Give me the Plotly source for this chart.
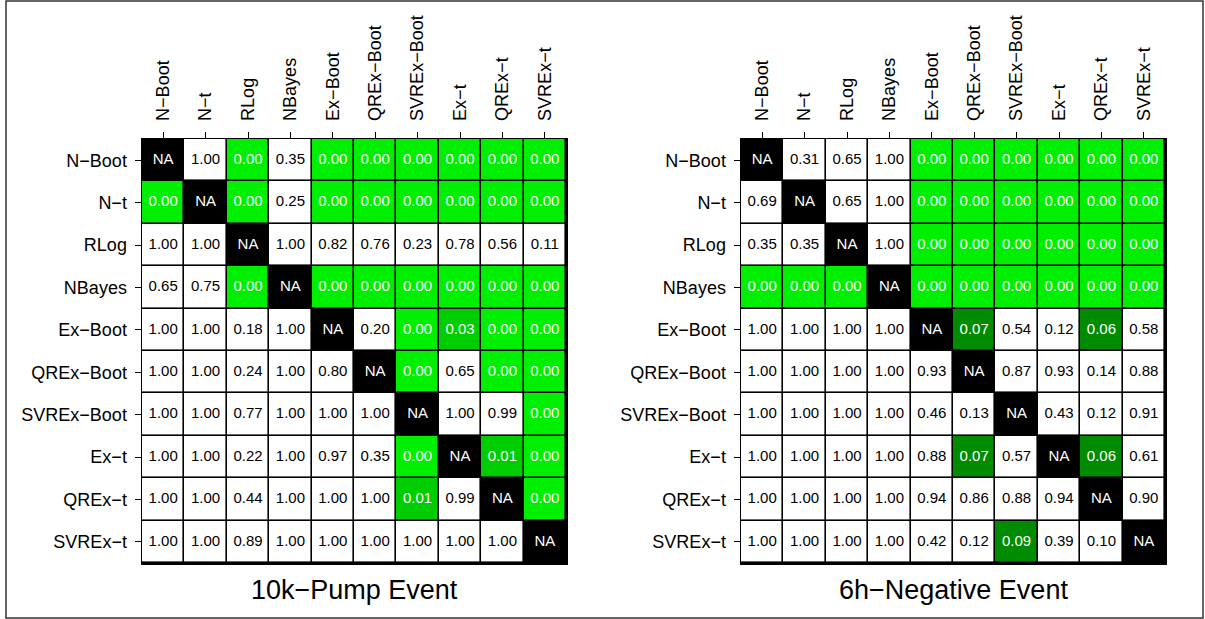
import plotly.graph_objects as go

methods = ["N−Boot", "N−t", "RLog", "NBayes", "Ex−Boot", "QREx−Boot",
           "SVREx−Boot", "Ex−t", "QREx−t", "SVREx−t"]

NA = None
pump_values = [
    [NA, 1.00, 0.00, 0.35, 0.00, 0.00, 0.00, 0.00, 0.00, 0.00],
    [0.00, NA, 0.00, 0.25, 0.00, 0.00, 0.00, 0.00, 0.00, 0.00],
    [1.00, 1.00, NA, 1.00, 0.82, 0.76, 0.23, 0.78, 0.56, 0.11],
    [0.65, 0.75, 0.00, NA, 0.00, 0.00, 0.00, 0.00, 0.00, 0.00],
    [1.00, 1.00, 0.18, 1.00, NA, 0.20, 0.00, 0.03, 0.00, 0.00],
    [1.00, 1.00, 0.24, 1.00, 0.80, NA, 0.00, 0.65, 0.00, 0.00],
    [1.00, 1.00, 0.77, 1.00, 1.00, 1.00, NA, 1.00, 0.99, 0.00],
    [1.00, 1.00, 0.22, 1.00, 0.97, 0.35, 0.00, NA, 0.01, 0.00],
    [1.00, 1.00, 0.44, 1.00, 1.00, 1.00, 0.01, 0.99, NA, 0.00],
    [1.00, 1.00, 0.89, 1.00, 1.00, 1.00, 1.00, 1.00, 1.00, NA],
]

neg_values = [
    [NA, 0.31, 0.65, 1.00, 0.00, 0.00, 0.00, 0.00, 0.00, 0.00],
    [0.69, NA, 0.65, 1.00, 0.00, 0.00, 0.00, 0.00, 0.00, 0.00],
    [0.35, 0.35, NA, 1.00, 0.00, 0.00, 0.00, 0.00, 0.00, 0.00],
    [0.00, 0.00, 0.00, NA, 0.00, 0.00, 0.00, 0.00, 0.00, 0.00],
    [1.00, 1.00, 1.00, 1.00, NA, 0.07, 0.54, 0.12, 0.06, 0.58],
    [1.00, 1.00, 1.00, 1.00, 0.93, NA, 0.87, 0.93, 0.14, 0.88],
    [1.00, 1.00, 1.00, 1.00, 0.46, 0.13, NA, 0.43, 0.12, 0.91],
    [1.00, 1.00, 1.00, 1.00, 0.88, 0.07, 0.57, NA, 0.06, 0.61],
    [1.00, 1.00, 1.00, 1.00, 0.94, 0.86, 0.88, 0.94, NA, 0.90],
    [1.00, 1.00, 1.00, 1.00, 0.42, 0.12, 0.09, 0.39, 0.10, NA],
]

titles = ["10k−Pump Event", "6h−Negative Event"]

W, H = 1205, 619
FONT = "Liberation Sans, Arial, Helvetica, sans-serif"


def code(v):
    if v is None:
        return 0
    if v < 0.01:
        return 1
    if v < 0.05:
        return 2
    if v < 0.1:
        return 3
    return 4


colorscale = [[0.0, "#000000"], [0.25, "#00EE00"], [0.5, "#00CD00"],
              [0.75, "#008B00"], [1.0, "#FFFFFF"]]

fig = go.Figure()

x_domains = [[142 / W, 566 / W], [741 / W, 1165 / W]]
y_domain = [1 - 563 / H, 1 - 139 / H]

for k, vals in enumerate([pump_values, neg_values]):
    xa = "x" if k == 0 else "x2"
    ya = "y" if k == 0 else "y2"
    z = [[code(v) for v in row] for row in vals]
    fig.add_trace(go.Heatmap(
        z=z, x=list(range(len(methods))), y=list(range(len(methods))),
        colorscale=colorscale, zmin=0, zmax=4, showscale=False,
        xgap=1.6, ygap=1.6, hoverinfo="skip", xaxis=xa, yaxis=ya))
    for light in (True, False):
        xs, ys, ts = [], [], []
        for i, row in enumerate(vals):
            for j, v in enumerate(row):
                is_light = code(v) < 4
                if is_light != light:
                    continue
                xs.append(j)
                ys.append(i)
                ts.append("NA" if v is None else f"{v:.2f}")
        fig.add_trace(go.Scatter(
            x=xs, y=ys, text=ts, mode="text", hoverinfo="skip",
            textfont=dict(family=FONT, size=15,
                          color="white" if light else "black"),
            showlegend=False, xaxis=xa, yaxis=ya))
    fig.add_annotation(
        text=titles[k], xref="paper", yref="paper",
        x=sum(x_domains[k]) / 2, y=1 - 590 / H, xanchor="center",
        yanchor="middle", showarrow=False,
        font=dict(family=FONT, size=27, color="black"))

axis_common = dict(
    ticks="outside", ticklen=6, tickwidth=1, tickcolor="black",
    showline=True, mirror=True, linecolor="black", linewidth=1.5,
    showgrid=False, zeroline=False,
    tickfont=dict(family=FONT, size=18, color="black"),
    range=[-0.5, len(methods) - 0.5],
    tickvals=list(range(len(methods))), ticktext=methods,
)

for k in range(2):
    sx = "" if k == 0 else "2"
    fig.layout["xaxis" + sx] = dict(axis_common, domain=x_domains[k],
                                     side="top", tickangle=-90,
                                     ticklabelstandoff=7,
                                     anchor="y" + sx)
    fig.layout["yaxis" + sx] = dict(axis_common, domain=y_domain,
                                     range=[len(methods) - 0.5, -0.5],
                                     ticklabelstandoff=4,
                                     anchor="x" + sx)

fig.add_shape(type="rect", xref="paper", yref="paper",
              x0=6 / W, x1=1203 / W, y0=1 / H, y1=1 - 1 / H,
              line=dict(color="#333333", width=1.5))

fig.update_layout(
    width=W, height=H, margin=dict(l=0, r=0, t=0, b=0),
    paper_bgcolor="white", plot_bgcolor="black", showlegend=False,
    font=dict(family=FONT),
)

fig.write_html("out.html",
               config={"displayModeBar": False, "staticPlot": True},
               post_script="document.body.style.margin='0';"
                           "document.body.style.overflow='hidden';")
